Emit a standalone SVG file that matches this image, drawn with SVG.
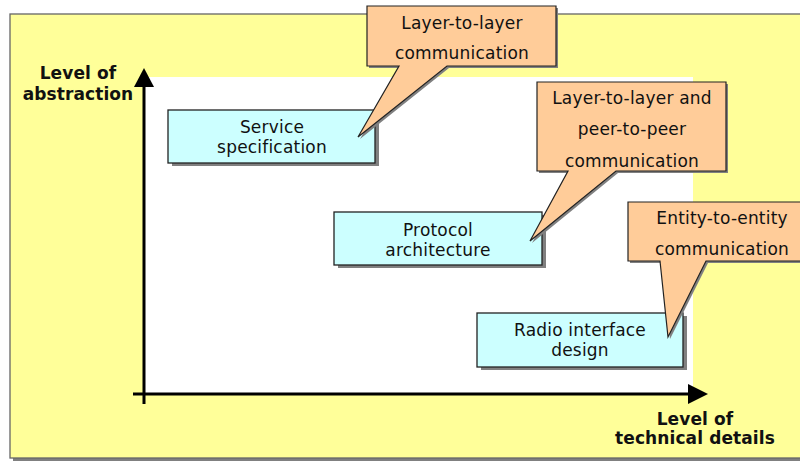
<svg xmlns="http://www.w3.org/2000/svg" width="800" height="462" viewBox="0 0 800 462">
<style>
text{font-family:"DejaVu Sans","Verdana",sans-serif;font-size:17px;fill:#111;text-anchor:middle;letter-spacing:0.2px}
.b{font-weight:bold;letter-spacing:0.1px}
.box{fill:#CCFFFF;stroke:#222;stroke-width:1.3}
.shadow{fill:#808080}
.call{fill:#FFCC99;stroke:#222;stroke-width:1.2}
.ax{stroke:#000;stroke-width:3;fill:none}
</style>
<g id="background">
<rect x="13" y="17" width="800" height="444" fill="#808080"/>
<rect x="10" y="14" width="800" height="444" fill="#FFFF99" stroke="#666" stroke-width="1.3"/>
<rect x="145" y="77" width="548" height="317" fill="#FFFFFF"/>
</g>
<g id="axes">
<line class="ax" x1="144" y1="404" x2="144" y2="84"/>
<polygon points="144,68 134,87 154,87" fill="#000"/>
<line class="ax" x1="133" y1="394" x2="692" y2="394"/>
<polygon points="708,394 688,384 688,404" fill="#000"/>
<text class="b" x="78" y="79">Level of</text>
<text class="b" x="78" y="100">abstraction</text>
<text class="b" x="695" y="425">Level of</text>
<text class="b" x="695" y="444">technical details</text>
</g>
<g id="service">
<rect class="shadow" x="172" y="113" width="207" height="53"/>
<rect class="box" x="168" y="110" width="207" height="53"/>
<text x="272" y="133">Service</text>
<text x="272" y="153">specification</text>
</g>
<g id="protocol">
<rect class="shadow" x="338" y="215" width="208" height="53"/>
<rect class="box" x="334" y="212" width="208" height="53"/>
<text x="438" y="236">Protocol</text>
<text x="438" y="256">architecture</text>
</g>
<g id="radio">
<rect class="shadow" x="481" y="316" width="206" height="54"/>
<rect class="box" x="477" y="313" width="206" height="54"/>
<text x="580" y="336">Radio interface</text>
<text x="580" y="356">design</text>
</g>
<g id="callout1">
<path d="M369,8 H558 V68 H449 L360,139 L401,68 H369 Z" fill="#808080"/>
<path class="call" d="M367,6 H556 V66 H447 L358,137 L399,66 H367 Z"/>
<text x="462" y="29">Layer-to-layer</text>
<text x="462" y="59">communication</text>
</g>
<g id="callout2">
<path d="M539,84 H728 V173 H618 L532,243 L570,173 H539 Z" fill="#808080"/>
<path class="call" d="M537,82 H726 V171 H616 L530,241 L568,171 H537 Z"/>
<text x="632" y="104">Layer-to-layer and</text>
<text x="632" y="135">peer-to-peer</text>
<text x="632" y="167">communication</text>
</g>
<g id="callout3">
<path d="M630,204 H822 V263 H708 L670,339 L662,263 H630 Z" fill="#808080"/>
<path class="call" d="M628,202 H820 V261 H706 L668,337 L660,261 H628 Z"/>
<text x="722" y="224">Entity-to-entity</text>
<text x="722" y="255">communication</text>
</g>
</svg>
